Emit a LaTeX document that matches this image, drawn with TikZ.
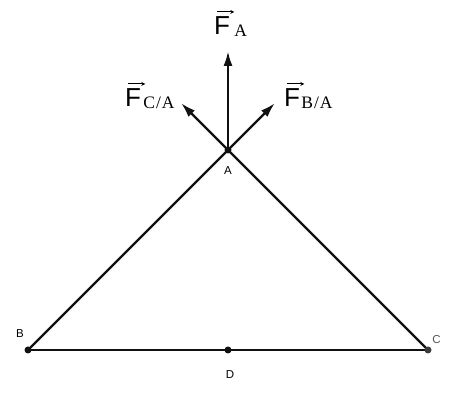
\documentclass[tikz,border=0pt]{standalone}
\usepackage{fontspec}
\setmainfont{Liberation Serif}
\setsansfont{Liberation Sans}
\usetikzlibrary{arrows.meta,calc}
\newfontfamily\bigF{Liberation Sans}
\newfontfamily\subF[LetterSpace=5]{Liberation Serif}
\definecolor{lineblk}{HTML}{111111}
\definecolor{cgray}{HTML}{555555}
\tikzset{
  member/.style={draw=lineblk,line width=2.4pt,line cap=round},
  force/.style={draw=lineblk,line width=2.4pt,-{Latex[length=15pt,width=9pt]}},
  jointdot/.style={circle,fill=lineblk,inner sep=0pt,minimum size=7pt},
  ptlabel/.style={font=\sffamily\fontsize{11.5}{13}\selectfont,inner sep=0pt},
  fsym/.style={font=\bigF\fontsize{26}{30}\selectfont,inner sep=0pt,anchor=base west},
  fsub/.style={font=\subF\fontsize{17.5}{20}\selectfont,inner sep=0pt,anchor=base west},
  vecarrow/.style={draw=black,line width=0.9pt,-{Stealth[length=4pt,width=4pt]}}
}
\begin{document}
\begin{tikzpicture}[x=1pt,y=-1pt]
\useasboundingbox (0,0) rectangle (467,401);
% joints
\coordinate (A) at (228,150);
\coordinate (B) at (28,350);
\coordinate (C) at (428,350);
\coordinate (D) at (228,350);
% members
\draw[member] (B) -- (A) -- (C);
\draw[member] (B) -- (C);
% force arrow tips
\coordinate (tipA) at (228,51);
\coordinate (tipCA) at (181,103);
\coordinate (tipBA) at (275,103);
\draw[force] (A) -- (tipA);
\draw[force] (A) -- (tipCA);
\draw[force] (A) -- (tipBA);
% dots
\node[jointdot] (dA) at (A) {};
\node[jointdot] (dB) at (B) {};
\node[jointdot] (dD) at (D) {};
\node[jointdot,fill=cgray!70!black] (dC) at (C) {};
% point labels
\node[ptlabel] (lA) at (228,171) {A};
\node[ptlabel] (lB) at (20,334) {B};
\node[ptlabel,text=cgray] (lC) at (436.5,340) {C};
\node[ptlabel] (lD) at (230,375) {D};
% force labels
\node[fsym] (FA) at (214,35) {F};
\node[fsub] (FAs) at ($(FA.base east)+(4,2)$) {A};
\draw[vecarrow] ($(FA.north west)+(3,-5)$) -- ($(FA.north east)+(4,-5)$);

\node[fsym] (FCA) at (125,107) {F};
\node[fsub] (FCAs) at ($(FCA.base east)+(2,2)$) {C/A};
\draw[vecarrow] ($(FCA.north west)+(3,-5)$) -- ($(FCA.north east)+(4,-5)$);

\node[fsym] (FBA) at (284,107) {F};
\node[fsub] (FBAs) at ($(FBA.base east)+(1,2)$) {B/A};
\draw[vecarrow] ($(FBA.north west)+(3,-5)$) -- ($(FBA.north east)+(4,-5)$);
\end{tikzpicture}
\end{document}
